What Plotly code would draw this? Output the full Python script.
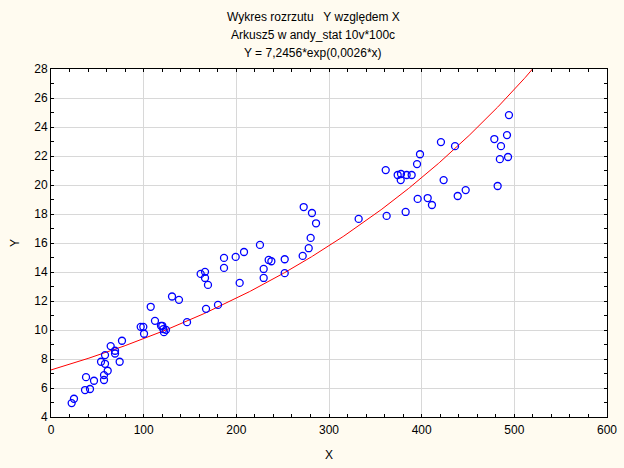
import numpy as np
import plotly.graph_objects as go

# Fitted model (from the title): Y = A * exp(B * x)
A = 7.2456
B = 0.0026

x_vals = [22.3, 24.8, 36.7, 42.1, 37.8, 46.4, 57.2, 57.2, 61.2, 54.0,
          58.3, 74.1, 58.3, 64.4, 69.1, 69.1, 76.6, 96.8, 99.6, 100.4,
          107.6, 112.2, 118.7, 120.1, 121.2, 121.9, 124.1, 130.6, 138.1, 146.8,
          167.3, 180.2, 161.5, 166.2, 166.2, 169.4, 186.7, 186.7, 199.3, 208.3,
          203.6, 225.5, 229.5, 229.5, 234.9, 237.8, 252.2, 252.2, 271.6, 278.1,
          280.2, 286.0, 281.6, 272.7, 332.0, 362.2, 382.7, 395.7, 406.5, 411.1,
          438.9, 447.5, 482.0, 361.2, 374.1, 377.7, 377.4, 383.8, 389.2, 395.0,
          398.2, 420.8, 436.0, 423.7, 478.4, 492.1, 485.6, 484.4, 493.2, 494.2]
y_vals = [4.96, 5.26, 5.86, 5.93, 6.75, 6.50, 6.55, 6.89, 7.19, 7.81,
          7.67, 7.81, 8.27, 8.89, 8.57, 8.38, 9.26, 10.22, 10.22, 9.74,
          11.60, 10.63, 10.29, 10.29, 10.06, 9.85, 10.01, 12.31, 12.08, 10.54,
          11.46, 11.73, 13.87, 14.01, 13.59, 13.11, 14.97, 14.28, 15.04, 15.38,
          13.25, 15.87, 14.21, 13.59, 14.83, 14.74, 14.88, 13.92, 15.11, 15.64,
          16.35, 17.36, 18.07, 18.48, 17.66, 17.87, 18.14, 19.04, 19.10, 18.62,
          19.24, 19.65, 19.93, 21.03, 20.69, 20.76, 20.34, 20.69, 20.69, 21.44,
          22.12, 22.96, 22.68, 20.34, 23.17, 23.44, 22.68, 21.78, 21.93, 24.82]

title_lines = ["Wykres rozrzutu   Y względem X",
               "Arkusz5 w andy_stat 10v*100c",
               "Y = 7,2456*exp(0,0026*x)"]

fit_x = np.linspace(0, 600, 601)
fit_y = A * np.exp(B * fit_x)

FONT = "Liberation Sans, Arial, sans-serif"

fig = go.Figure()
fig.add_trace(go.Scatter(x=fit_x, y=fit_y, mode="lines",
                         line=dict(color="#FF0000", width=1),
                         hoverinfo="skip", showlegend=False))
fig.add_trace(go.Scatter(x=x_vals, y=y_vals, mode="markers",
                         marker=dict(symbol="circle-open", size=7,
                                     color="#0000FF", line=dict(width=1.3)),
                         showlegend=False))

L, R, T, Bm = 51, 17, 68.5, 51
W, H = 624, 468
pw = W - L - R
ph = H - T - Bm

for i, txt in enumerate(title_lines):
    cy = 16 + 18 * i
    fig.add_annotation(text=txt, xref="paper", yref="paper",
                       x=(313 - L) / pw, y=1 + (T - cy) / ph,
                       xanchor="center", yanchor="middle", showarrow=False,
                       font=dict(family=FONT, size=12, color="#000000"))

axis_common = dict(showline=True, linecolor="#000000", linewidth=1,
                   mirror="allticks", ticks="inside", ticklen=3,
                   tickcolor="#000000", showgrid=True, gridcolor="#D8D8D8",
                   gridwidth=1, zeroline=False, automargin=False,
                   tickfont=dict(family=FONT, size=12, color="#000000"))

fig.update_layout(
    width=W, height=H,
    margin=dict(l=L, r=R, t=T, b=Bm, autoexpand=False),
    paper_bgcolor="#FFFBF0",
    plot_bgcolor="#FFFFFF",
    font=dict(family=FONT, size=12, color="#000000"),
    xaxis=dict(range=[0, 600], dtick=100, tick0=0, ticklabelstandoff=2,
               minor=dict(dtick=20, ticks="inside", ticklen=3,
                          tickcolor="#000000", showgrid=False),
               title=dict(text="X", font=dict(family=FONT, size=12), standoff=14),
               **axis_common),
    yaxis=dict(range=[4, 28], dtick=2, tick0=4,
               minor=dict(dtick=1, ticks="inside", ticklen=3,
                          tickcolor="#000000", showgrid=False),
               title=dict(text="Y", font=dict(family=FONT, size=12), standoff=12),
               **axis_common),
)

fig.write_html("out.html")
